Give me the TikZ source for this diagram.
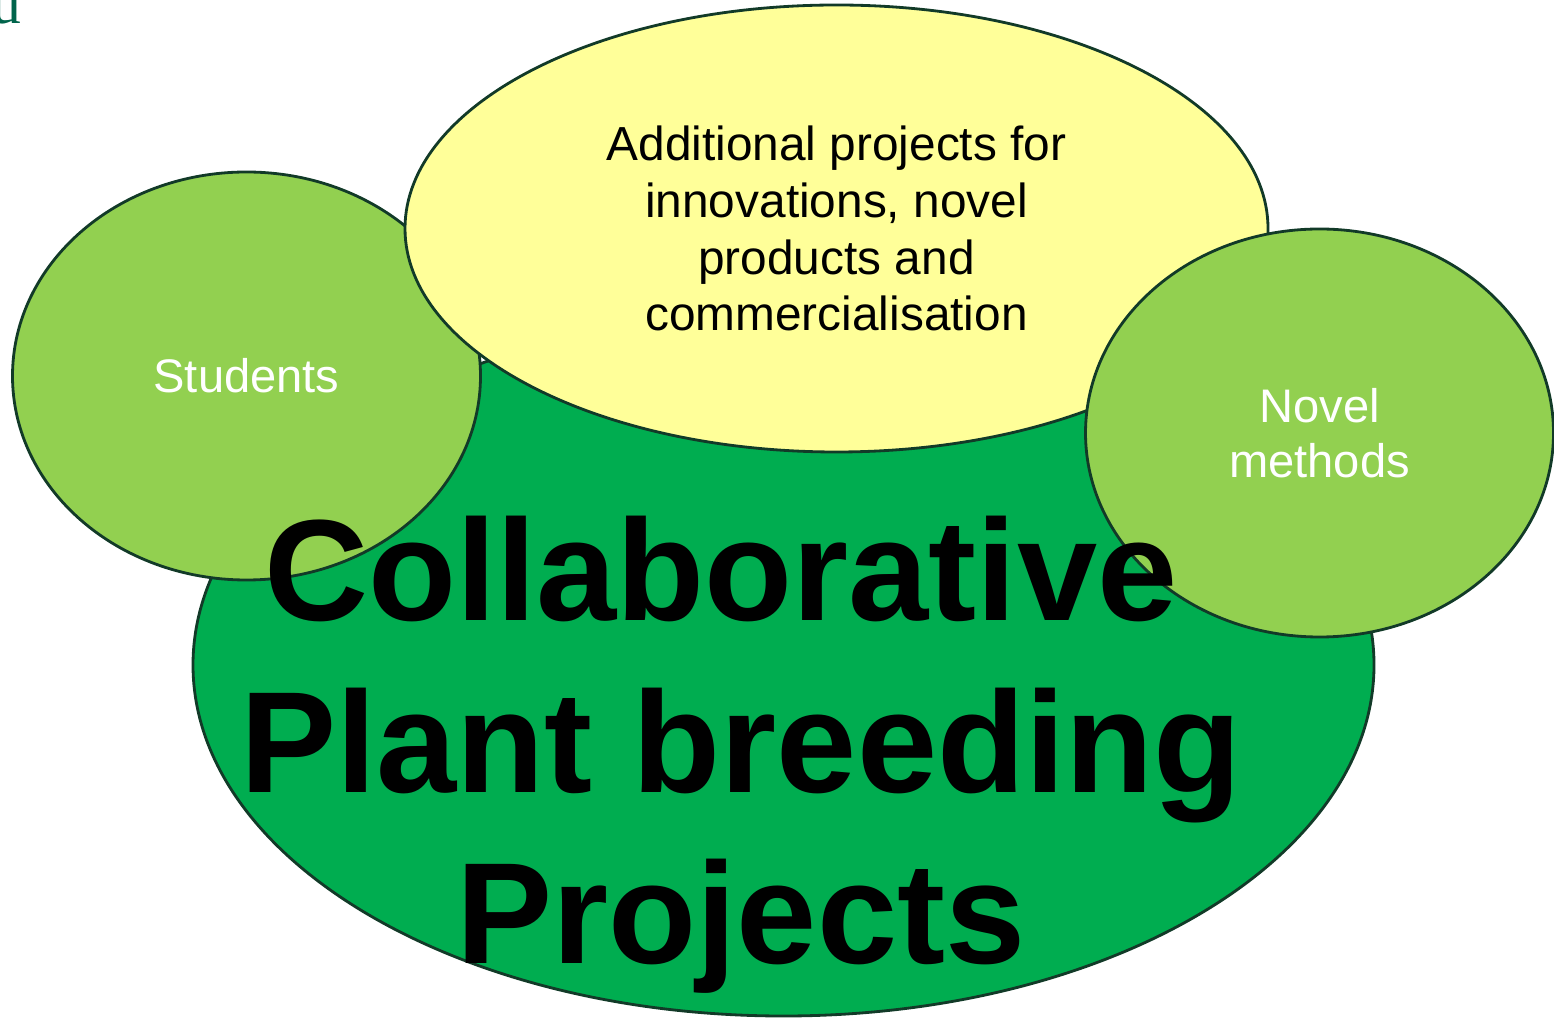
\documentclass[tikz,border=0pt]{standalone}
\usepackage{fontspec}
\setmainfont{Liberation Sans}
\newfontfamily\cornerfont{Liberation Serif}
\usepackage{tikz}
\usetikzlibrary{shapes}
\definecolor{leafdark}{RGB}{0,173,80}
\definecolor{leaflight}{RGB}{146,208,80}
\definecolor{paleyellow}{RGB}{255,255,153}
\definecolor{rim}{RGB}{18,58,40}
\definecolor{cornerteal}{RGB}{0,100,75}
\tikzstyle{oval}=[ellipse, draw=rim, line width=0.8pt, inner sep=0pt, align=center]
\tikzstyle{mainoval}=[oval, fill=leafdark, minimum width=11.81cm, minimum height=7.02cm]
\tikzstyle{topoval}=[oval, fill=paleyellow, minimum width=8.63cm, minimum height=4.47cm, font=\fontsize{13.6}{16.2}\selectfont]
\tikzstyle{sideoval}=[oval, fill=leaflight, text=white, minimum width=4.68cm, minimum height=4.08cm, font=\fontsize{13.4}{15.8}\selectfont]
\tikzstyle{bigtitle}=[align=center, inner sep=0pt, font=\bfseries\fontsize{41}{48.8}\selectfont]

\begin{document}
\begin{tikzpicture}
\useasboundingbox (0,0) rectangle (15.54,10.19);

%Ovals
\node[mainoval] (cpb) at (7.835,3.54){};
\node[sideoval] (stud) at (2.465,6.43){Students};
\node[topoval] (addp) at (8.365,7.905){Additional projects for\\innovations, novel\\products and\\commercialisation};
\node[sideoval] (novm) at (13.195,5.86){Novel\\methods};

%Title
\node[bigtitle] (title) at (7.41,2.64){Collaborative\kern.28em\\Plant breeding\\Projects};

%Corner
\node[anchor=base east, inner sep=0pt, text=cornerteal, font=\cornerfont\fontsize{17}{20}\selectfont] (corner) at (0.22,9.95){u};
\end{tikzpicture}
\end{document}
